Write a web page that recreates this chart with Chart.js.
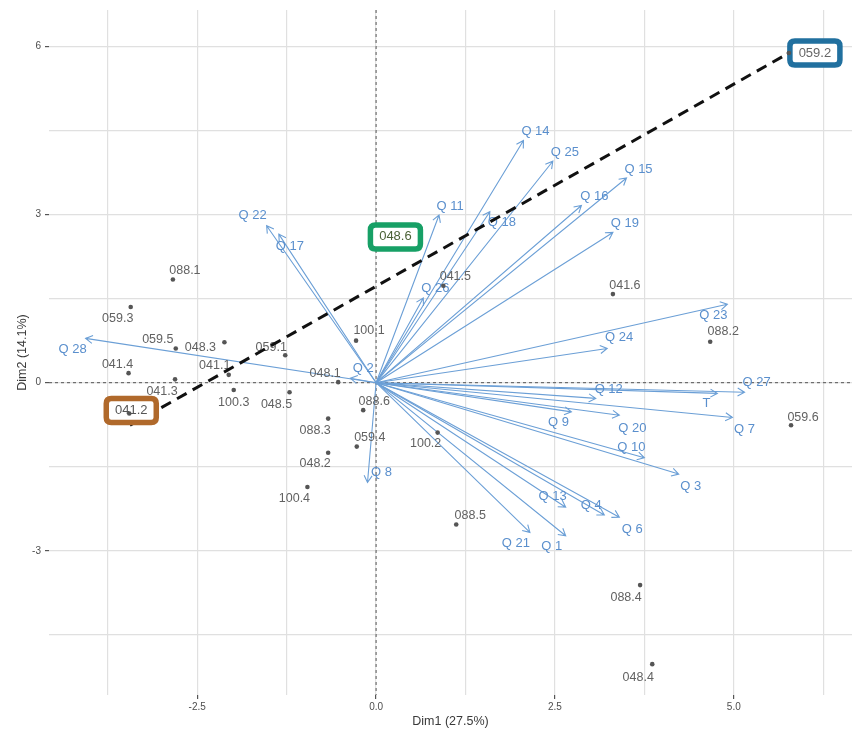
<!DOCTYPE html>
<html>
<head>
<meta charset="utf-8">
<script src="https://cdn.jsdelivr.net/npm/chart.js@4.4.1/dist/chart.umd.min.js"></script>
<style>
  html, body { margin: 0; padding: 0; background: #fff; }
  #pca { display: block; }
</style>
</head>
<body>
<canvas id="pca" width="856" height="731"></canvas>
<script>
// individuals (Dim1, Dim2)
const indNames = ['088.1','059.3','059.5','048.3','059.1','041.4','041.1','041.3','041.2','100.3',
                  '048.5','048.1','100.1','088.6','088.3','059.4','048.2','100.4','100.2','088.5',
                  '088.4','048.4','059.6','088.2','041.6','041.5','059.2','048.6'];
const indDim1 = [-2.84,-3.43,-2.80,-2.12,-1.27,-3.46,-2.06,-2.81,-3.45,-1.99,
                 -1.21,-0.53,-0.28,-0.18,-0.67,-0.27,-0.67,-0.96,0.86,1.12,
                 3.69,3.86,5.80,4.67,3.31,0.94,5.77,0.27];
const indDim2 = [1.84,1.35,0.61,0.72,0.49,0.17,0.14,0.06,-0.55,-0.13,
                 -0.17,0.01,0.75,-0.49,-0.64,-1.14,-1.25,-1.86,-0.89,-2.53,
                 -3.61,-5.02,-0.76,0.73,1.58,1.73,5.88,2.60];

// variables (arrow tips)
const varNames = ['Q 14','Q 25','Q 15','Q 16','Q 19','Q 11','Q 18','Q 26','Q 23','Q 24',
                  'Q 22','Q 17','Q 28','Q 2','Q 8','Q 27','T','Q 12','Q 7','Q 9',
                  'Q 20','Q 10','Q 3','Q 13','Q 4','Q 6','Q 21','Q 1'];
const varDim1 = [2.06,2.47,3.50,2.87,3.31,0.88,1.59,0.66,4.91,3.23,
                 -1.53,-1.36,-4.06,-0.36,-0.12,5.15,4.77,3.07,4.98,2.73,
                 3.40,3.75,4.23,2.65,3.19,3.40,2.15,2.65];
const varDim2 = [4.32,3.95,3.65,3.16,2.68,2.99,3.05,1.51,1.40,0.61,
                 2.80,2.65,0.79,0.08,-1.78,-0.17,-0.19,-0.28,-0.62,-0.52,
                 -0.58,-1.34,-1.63,-2.22,-2.36,-2.40,-2.67,-2.73];

// dashed line between the two extreme profiles
const trendDim1 = [-3.44, 5.77];
const trendDim2 = [-0.76, 5.88];

// highlighted individuals
const boxNames = ['041.2','048.6','059.2'];

// axes
const xGrid = [-3.75,-2.5,-1.25,0,1.25,2.5,3.75,5,6.25];
const xTickValues = [-2.5,0,2.5,5];
const xTickLabels = ['-2.5','0.0','2.5','5.0'];
const yGrid = [-4.5,-3,-1.5,0,1.5,3,4.5,6];
const yTickValues = [-3,0,3,6];
const yTickLabels = ['-3','0','3','6'];

// label placement (pixels from the mark)
const indLabelOffset = {
  '088.1':[12,-9],'059.3':[-13,12],'059.5':[-18,-9],'048.3':[-24,5],'059.1':[-14,-8],
  '041.4':[-11,-9],'041.1':[-14,-9],'041.3':[-13,12],'041.2':[2,-3],'100.3':[0,13],
  '048.5':[-13,12],'048.1':[-13,-9],'100.1':[13,-10],'088.6':[11,-9],'088.3':[-13,12],
  '059.4':[13,-9],'048.2':[-13,11],'100.4':[-13,12],'100.2':[-12,11],'088.5':[14,-9],
  '088.4':[-14,12],'048.4':[-14,13],'059.6':[12,-8],'088.2':[13,-10],'041.6':[12,-9],
  '041.5':[12,-9],'059.2':[26,0],'048.6':[0,0]
};
const varLabelOffset = {
  'Q 14':[12,-9],'Q 25':[12,-9],'Q 15':[12,-9],'Q 16':[13,-9],'Q 19':[12,-9],
  'Q 11':[11,-9],'Q 18':[12,11],'Q 26':[12,-10],'Q 23':[-14,11],'Q 24':[12,-11],
  'Q 22':[-14,-10],'Q 17':[11,12],'Q 28':[-13,11],'Q 2':[13,-10],'Q 8':[14,-10],
  'Q 27':[12,-10],'T':[-11,10],'Q 12':[13,-9],'Q 7':[12,12],'Q 9':[-13,11],
  'Q 20':[13,13],'Q 10':[-13,-10],'Q 3':[12,12],'Q 13':[-13,-11],'Q 4':[-13,-10],
  'Q 6':[13,12],'Q 21':[-14,11],'Q 1':[-14,11]
};
const boxStyle = {
  '041.2': { color: '#b0692b', text: '#555555', dotOnTop: true },
  '048.6': { color: '#17a066', text: '#4b6136', dotOnTop: false },
  '059.2': { color: '#21709f', text: '#666666', dotOnTop: true }
};

const FONT = '"Liberation Sans", Arial, sans-serif';
const ARROW = '#6b9fd6';
const VARTEXT = '#5a8fcd';
const INDTEXT = '#626262';
const DOT = '#555555';

const indPoints = indNames.map((n, i) => ({ x: indDim1[i], y: indDim2[i] }));
const trendPoints = trendDim1.map((v, i) => ({ x: v, y: trendDim2[i] }));

function roundRect(ctx, x, y, w, h, r) {
  ctx.beginPath();
  ctx.moveTo(x + r, y);
  ctx.lineTo(x + w - r, y);
  ctx.quadraticCurveTo(x + w, y, x + w, y + r);
  ctx.lineTo(x + w, y + h - r);
  ctx.quadraticCurveTo(x + w, y + h, x + w - r, y + h);
  ctx.lineTo(x + r, y + h);
  ctx.quadraticCurveTo(x, y + h, x, y + h - r);
  ctx.lineTo(x, y + r);
  ctx.quadraticCurveTo(x, y, x + r, y);
  ctx.closePath();
}

const biplotLayer = {
  id: 'biplotLayer',
  beforeDatasetsDraw(chart) {
    const { ctx, chartArea, scales } = chart;
    const sx = scales.x, sy = scales.y;
    const ox = sx.getPixelForValue(0), oy = sy.getPixelForValue(0);
    ctx.save();
    // zero reference lines
    ctx.strokeStyle = '#444';
    ctx.lineWidth = 0.9;
    ctx.setLineDash([3, 3]);
    ctx.beginPath();
    ctx.moveTo(ox, chartArea.top); ctx.lineTo(ox, chartArea.bottom);
    ctx.moveTo(chartArea.left, oy); ctx.lineTo(chartArea.right, oy);
    ctx.stroke();
    ctx.setLineDash([]);

    // variable arrows
    ctx.strokeStyle = ARROW;
    ctx.lineWidth = 1.1;
    varNames.forEach((n, i) => {
      const tx = sx.getPixelForValue(varDim1[i]);
      const ty = sy.getPixelForValue(varDim2[i]);
      const a = Math.atan2(ty - oy, tx - ox);
      const L = 8, w = Math.PI / 6;
      ctx.beginPath();
      ctx.moveTo(ox, oy); ctx.lineTo(tx, ty);
      ctx.moveTo(tx - L * Math.cos(a - w), ty - L * Math.sin(a - w));
      ctx.lineTo(tx, ty);
      ctx.lineTo(tx - L * Math.cos(a + w), ty - L * Math.sin(a + w));
      ctx.stroke();
    });

    ctx.textAlign = 'center';
    ctx.textBaseline = 'middle';
    ctx.font = '13px ' + FONT;
    ctx.fillStyle = VARTEXT;
    varNames.forEach((n, i) => {
      const off = varLabelOffset[n] || [0, -10];
      ctx.fillText(n, sx.getPixelForValue(varDim1[i]) + off[0], sy.getPixelForValue(varDim2[i]) + off[1]);
    });

    // individual labels
    ctx.font = '12.5px ' + FONT;
    ctx.fillStyle = INDTEXT;
    indNames.forEach((n, i) => {
      if (boxNames.includes(n)) return;
      const off = indLabelOffset[n] || [0, -10];
      ctx.fillText(n, sx.getPixelForValue(indDim1[i]) + off[0], sy.getPixelForValue(indDim2[i]) + off[1]);
    });
    ctx.restore();
  },
  afterDatasetsDraw(chart) {
    const { ctx, scales } = chart;
    const sx = scales.x, sy = scales.y;
    ctx.save();
    ctx.textAlign = 'center';
    ctx.textBaseline = 'middle';
    ctx.font = '13px ' + FONT;
    boxNames.forEach(n => {
      const i = indNames.indexOf(n);
      const st = boxStyle[n];
      const px = sx.getPixelForValue(indDim1[i]);
      const py = sy.getPixelForValue(indDim2[i]);
      const off = indLabelOffset[n];
      const cx = px + off[0], cy = py + off[1];
      const w = 50, h = 24;
      roundRect(ctx, cx - w / 2, cy - h / 2, w, h, 5);
      ctx.fillStyle = '#fff';
      ctx.fill();
      ctx.lineWidth = 5.5;
      ctx.strokeStyle = st.color;
      ctx.stroke();
      ctx.fillStyle = st.text;
      ctx.fillText(n, cx, cy);
      if (st.dotOnTop) {
        ctx.beginPath();
        ctx.arc(px, py, 2.3, 0, Math.PI * 2);
        ctx.fillStyle = DOT;
        ctx.fill();
      }
    });
    ctx.restore();
  }
};

const tickFont = { family: FONT, size: 10 };

new Chart(document.getElementById('pca').getContext('2d'), {
  type: 'scatter',
  data: {
    datasets: [
      {
        label: 'individuals',
        data: indPoints,
        pointRadius: 2.3,
        pointBackgroundColor: DOT,
        pointBorderWidth: 0,
        order: 2
      },
      {
        label: 'trend',
        data: trendPoints,
        showLine: true,
        borderColor: '#111',
        borderWidth: 3,
        borderDash: [11, 7],
        pointRadius: 0,
        fill: false,
        order: 1
      }
    ]
  },
  options: {
    responsive: false,
    animation: false,
    devicePixelRatio: 1,
    layout: { padding: { top: 10, right: 0, bottom: 0, left: 0 } },
    plugins: { legend: { display: false }, tooltip: { enabled: false } },
    scales: {
      x: {
        type: 'linear',
        min: -4.572,
        max: 6.652,
        afterBuildTicks: s => { s.ticks = xGrid.map(v => ({ value: v })); },
        afterFit: s => { s.height = 36; },
        border: { display: false },
        grid: {
          color: '#e0e0e0',
          lineWidth: 1.2,
          tickLength: 4,
          tickColor: c => xTickValues.includes(c.tick && c.tick.value) ? '#555' : 'rgba(0,0,0,0)'
        },
        ticks: {
          font: tickFont,
          color: '#4d4d4d',
          padding: 2,
          maxRotation: 0,
          autoSkip: false,
          callback: v => {
            const k = xTickValues.indexOf(v);
            return k >= 0 ? xTickLabels[k] : '';
          }
        },
        title: {
          display: true,
          text: 'Dim1 (27.5%)',
          color: '#3a3a3a',
          font: { family: FONT, size: 12.5 },
          padding: { top: 0, bottom: 2 }
        }
      },
      y: {
        type: 'linear',
        min: -5.570,
        max: 6.647,
        afterBuildTicks: s => { s.ticks = yGrid.map(v => ({ value: v })); },
        afterFit: s => { s.width = 49; },
        border: { display: false },
        grid: {
          color: '#e0e0e0',
          lineWidth: 1.2,
          tickLength: 4,
          tickColor: c => yTickValues.includes(c.tick && c.tick.value) ? '#555' : 'rgba(0,0,0,0)'
        },
        ticks: {
          font: tickFont,
          color: '#4d4d4d',
          padding: 4,
          autoSkip: false,
          callback: v => {
            const k = yTickValues.indexOf(v);
            return k >= 0 ? yTickLabels[k] : '';
          }
        },
        title: {
          display: true,
          text: 'Dim2 (14.1%)',
          color: '#3a3a3a',
          font: { family: FONT, size: 12.5 },
          padding: { top: 15, bottom: 0 }
        }
      }
    }
  },
  plugins: [biplotLayer]
});
</script>
</body>
</html>
